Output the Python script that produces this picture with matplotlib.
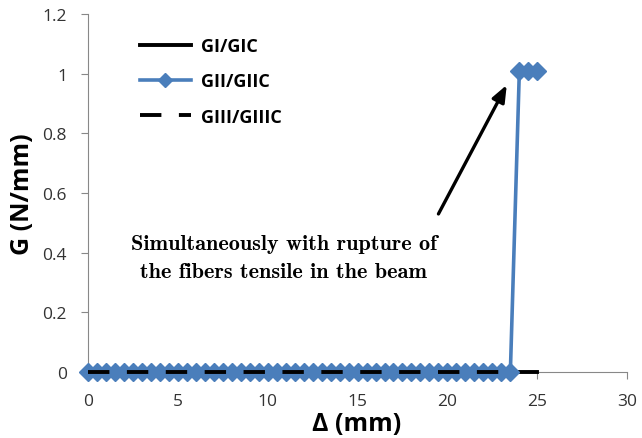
import numpy as np
import matplotlib.pyplot as plt
from matplotlib.lines import Line2D

# Displacement (mm) and normalised energy release rates
delta = [0.0, 0.5, 1.0, 1.5, 2.0, 2.5, 3.0, 3.5, 4.0, 4.5, 5.0, 5.5, 6.0, 6.5,
         7.0, 7.5, 8.0, 8.5, 9.0, 9.5, 10.0, 10.5, 11.0, 11.5, 12.0, 12.5,
         13.0, 13.5, 14.0, 14.5, 15.0, 15.5, 16.0, 16.5, 17.0, 17.5, 18.0,
         18.5, 19.0, 19.5, 20.0, 20.5, 21.0, 21.5, 22.0, 22.5, 23.0, 23.5,
         24.0, 24.5, 25.0]
g1 = [0.0] * 51
g2 = [0.0] * 48 + [1.01, 1.01, 1.01]
delta3 = delta[:48]
g3 = [0.0] * 48

x_ticks = [0, 5, 10, 15, 20, 25, 30]
y_ticks = [0, 0.2, 0.4, 0.6, 0.8, 1.0, 1.2]
y_ticklabels = ["0", "0.2", "0.4", "0.6", "0.8", "1", "1.2"]

plt.rcParams['font.family'] = ['Open Sans', 'DejaVu Sans']

fig = plt.figure(figsize=(6.42, 4.39), dpi=100)
ax = fig.add_axes([0.134, 0.150, 0.843, 0.816])

blue = '#4a7ebb'
ax.plot(delta, g1, color='black', lw=2.8, zorder=2, clip_on=False)
ax.plot(delta, g2, color=blue, lw=2.6, marker='D', markersize=9,
        markeredgecolor=blue, markerfacecolor=blue, zorder=3, clip_on=False)
ax.plot(delta3, g3, color='black', lw=2.8, dashes=(5.5, 4.5), zorder=4,
        clip_on=False)

ax.set_xlim(-0.1, 30)
ax.set_ylim(0, 1.2)
ax.set_xticks(x_ticks)
ax.set_yticks(y_ticks)
ax.set_yticklabels(y_ticklabels)
ax.tick_params(axis='both', labelsize=12.5, colors='#333333', length=5,
               width=0.8, color='#888888', direction='out')
ax.tick_params(axis='y', pad=10)
ax.tick_params(axis='x', pad=10)
for s in ['top', 'right']:
    ax.spines[s].set_visible(False)
for s in ['left', 'bottom']:
    ax.spines[s].set_color('#888888')
    ax.spines[s].set_linewidth(0.8)
ax.spines['left'].set_position(('data', 0))
ax.spines['left'].set_zorder(1)
ax.spines['bottom'].set_zorder(1)

ax.set_xlabel('Δ (mm)', fontsize=18, fontweight='bold')
ax.set_ylabel('G (N/mm)', fontsize=18, fontweight='bold')
ax.yaxis.set_label_coords(-0.094, 0.5)
ax.xaxis.set_label_coords(0.5, -0.108)

handles = [
    Line2D([], [], color='black', lw=2.8),
    Line2D([], [], color=blue, lw=2.6, marker='D', markersize=7,
           markerfacecolor=blue, markeredgecolor=blue),
    Line2D([], [], color='black', lw=2.8, dashes=(5.5, 4.5)),
]
ax.legend(handles, ['GI/GIC', 'GII/GIIC', 'GIII/GIIIC'], loc='upper left',
          bbox_to_anchor=(0.1, 0.935), frameon=False, handlelength=2.8,
          handletextpad=0.55, labelspacing=0.95, borderpad=0,
          borderaxespad=0, prop={'weight': 'bold', 'size': 13})

ax.annotate('', xy=(23.3, 0.962), xytext=(19.5, 0.53),
            arrowprops=dict(arrowstyle='-|>,head_length=1.0,head_width=0.4',
                            color='black', lw=2.4, shrinkA=0, shrinkB=0))
ax.text(10.9, 0.385, 'Simultaneously with rupture of\nthe fibers tensile in the beam',
        ha='center', va='center', fontsize=16, family='cmb10',
        linespacing=1.6)

fig.savefig('out.png', dpi=100)
